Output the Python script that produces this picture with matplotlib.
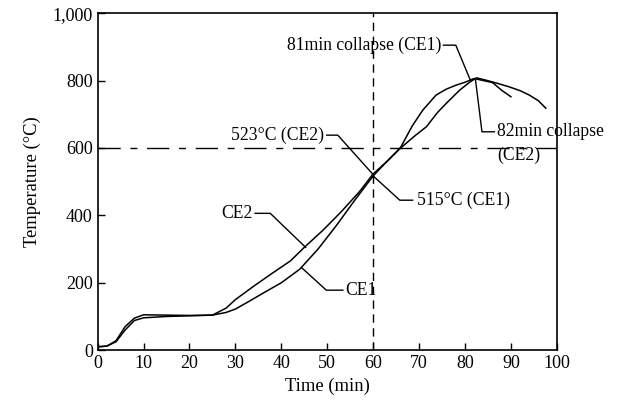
import matplotlib
matplotlib.use('Agg')
from matplotlib import pyplot as plt

# time (min) / temperature (C)
t_ce1 = [0, 2, 4, 6, 8, 10, 15, 20, 25, 28, 30, 33, 36, 40, 44, 48, 52, 56, 60,
         63, 66, 68.5, 70.8, 73.7, 76, 78, 80, 82, 84, 86, 88, 90]
T_ce1 = [10, 12, 25, 60, 88, 96, 100, 102, 104, 112, 122, 145, 169, 200, 240, 300,
         370, 445, 517, 560, 602, 665, 712, 757, 775, 786, 795, 806, 800, 794, 771, 752]

t_ce2 = [0, 2, 4, 6, 8, 10, 15, 20, 25, 28, 30, 34, 38, 42, 45, 49, 53, 57, 60,
         63, 66, 69, 71.6, 74, 75.9, 78.8, 81, 82.5, 84.6, 87, 89.7, 92, 94, 96, 97.6]
T_ce2 = [10, 12, 28, 70, 95, 105, 104, 103, 104, 125, 150, 190, 228, 265, 305, 355,
         410, 470, 523, 560, 600, 635, 663, 705, 732, 771, 795, 808, 801, 792, 781,
         770, 757, 740, 718]

xticks = [0, 10, 20, 30, 40, 50, 60, 70, 80, 90, 100]
yticks = [0, 200, 400, 600, 800, 1000]
ytick_labels = ['0', '200', '400', '600', '800', '1,000']

plt.rcParams['font.family'] = ['Liberation Serif', 'DejaVu Serif']

fig = plt.figure(figsize=(6.18, 4.11), dpi=100)
ax = fig.add_axes([0.158, 0.148, 0.743, 0.820])

ax.plot(t_ce1, T_ce1, color='black', lw=1.1)
ax.plot(t_ce2, T_ce2, color='black', lw=1.1)

ax.axvline(60, color='black', lw=1, linestyle=(0, (6, 4)))
ax.axhline(600, color='black', lw=1, linestyle=(0, (16, 7, 5, 7)))

# leaders and labels
lc = dict(color='black', lw=1)
fs = 12.7
ax.plot([75.3, 78, 81.2], [905, 905, 800], **lc)
ax.text(74.8, 905, '81min collapse (CE1)', ha='right', va='center', fontsize=fs)

ax.plot([82.3, 83.7, 86.4], [801, 648, 648], **lc)
ax.text(87.0, 648, '82min collapse', ha='left', va='center', fontsize=fs)
ax.text(87.0, 577, '(CE2)', ha='left', va='center', fontsize=fs)

ax.plot([49.9, 52.3, 60], [638, 638, 521], **lc)
ax.text(49.3, 638, '523°C (CE2)', ha='right', va='center', fontsize=fs)

ax.plot([60, 65.8, 68.6], [517, 445, 445], **lc)
ax.text(69.5, 445, '515°C (CE1)', ha='left', va='center', fontsize=fs)

ax.plot([34.3, 37.6, 45.3], [406, 406, 305], **lc)
ax.text(33.8, 406, 'CE2', ha='right', va='center', fontsize=fs)

ax.plot([44.4, 49.8, 53.4], [245, 178, 178], **lc)
ax.text(54.0, 178, 'CE1', ha='left', va='center', fontsize=fs)

ax.set_xlim(0, 100)
ax.set_ylim(0, 1000)
ax.set_xticks(xticks)
ax.set_yticks(yticks)
ax.set_yticklabels(ytick_labels)
ax.tick_params(direction='in', length=5, width=1, labelsize=13, colors='black')
ax.set_xlabel('Time (min)', fontsize=13.4)
ax.set_ylabel('Temperature (°C)', fontsize=13.4, labelpad=8)
for s in ax.spines.values():
    s.set_linewidth(1.2)

plt.savefig('out.png', dpi=100)
